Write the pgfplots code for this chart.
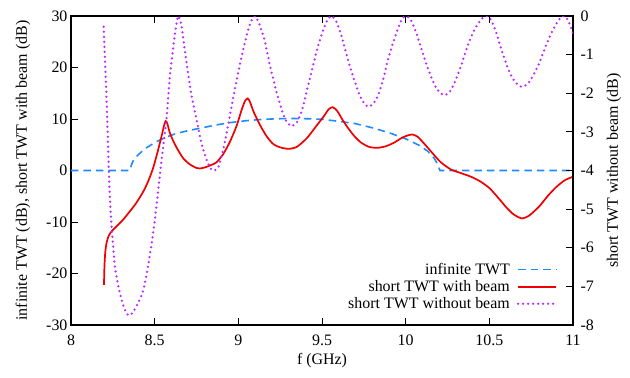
\documentclass[border=0pt]{standalone}
\usepackage{pgfplots}
\pgfplotsset{compat=1.18}
\usepackage{fontspec}
\setmainfont{Liberation Serif}
\definecolor{twtblue}{RGB}{30,140,255}
\definecolor{twtpurple}{RGB}{188,40,255}
\definecolor{twtred}{RGB}{240,0,0}

\pgfplotsset{
  common/.style={
    width=502bp, height=309bp, scale only axis,
    xmin=8, xmax=11,
    tick align=inside,
    major tick length=7bp,
    axis line style={line width=1.1pt},
    every tick/.style={black, line width=1pt},
    /pgf/number format/assume math mode=true,
    tick label style={font=\fontsize{16}{18}\selectfont},
    label style={font=\fontsize{16}{18}\selectfont},
  },
  legend image code/.code={\draw[#1] plot coordinates {(0bp,0bp) (19bp,0bp) (38bp,0bp)};},
}

\begin{document}
\begin{tikzpicture}[font=\fontsize{16}{18}\selectfont]
\begin{axis}[
  common,
  ymin=-30, ymax=30,
  ytick={-30,-20,-10,0,10,20,30},
  xtick={8,8.5,9,9.5,10,10.5,11},
  ytick pos=left,
  xtick pos=both,
  xticklabel style={yshift=-6bp},
  xlabel={f (GHz)},
  ylabel={infinite TWT (dB), short TWT with beam (dB)},
  every axis x label/.style={at={(axis description cs:0.5,-0.1165)},anchor=center},
  every axis y label/.style={at={(axis description cs:-0.0956,0.5)},rotate=90,anchor=center},
]
% infinite TWT
\addplot[twtblue, line width=1.6bp, dash pattern=on 7.5bp off 5bp] coordinates {
(8.0,0) (8.353,0) (8.36,1.0) (8.37,1.8) (8.385,2.5) (8.40,3.0) (8.44,4.2)
(8.51,5.6) (8.57,6.5) (8.63,7.2) (8.70,7.75) (8.77,8.2) (8.86,8.8) (8.95,9.3)
(9.04,9.65) (9.13,9.9) (9.23,10.05) (9.33,10.1) (9.42,10.05) (9.50,9.95)
(9.60,9.55) (9.70,9.1) (9.80,8.3) (9.90,7.35) (10.00,6.15) (10.08,4.9)
(10.13,3.8) (10.17,2.4) (10.19,1.3) (10.205,0) (11.0,0)
};
% short TWT with beam
\addplot[twtred, line width=1.7bp, smooth, tension=0.4] coordinates {
(8.197,-22.2) (8.200,-18.5) (8.205,-15.8) (8.213,-14.0) (8.225,-12.7)
(8.243,-11.8) (8.27,-10.9) (8.31,-9.6) (8.35,-8.0) (8.39,-6.3) (8.43,-4.2)
(8.46,-2.2) (8.49,0.4) (8.515,3.3) (8.54,6.5) (8.555,8.6) (8.565,9.6)
(8.575,9.2) (8.59,7.4) (8.61,5.8) (8.632,4.4) (8.67,2.4) (8.71,1.2)
(8.75,0.5) (8.77,0.4) (8.80,0.6) (8.84,1.1) (8.87,1.6) (8.91,3.2)
(8.95,5.6) (8.99,8.7) (9.02,11.8) (9.04,13.5) (9.056,14.0) (9.07,13.3)
(9.09,11.5) (9.13,8.8) (9.17,6.6) (9.21,5.1) (9.25,4.5) (9.30,4.2)
(9.35,4.6) (9.41,6.3) (9.46,8.4) (9.51,10.5) (9.54,11.9) (9.564,12.3)
(9.59,11.6) (9.62,10.0) (9.65,8.5) (9.69,6.8) (9.73,5.5) (9.78,4.6)
(9.83,4.4) (9.88,4.7) (9.93,5.4) (9.98,6.4) (10.02,6.9) (10.04,7.0)
(10.07,6.6) (10.10,5.6) (10.13,4.5) (10.17,3.0) (10.21,1.6) (10.27,0.2)
(10.33,-0.5) (10.39,-1.2) (10.445,-2.1) (10.50,-3.4) (10.545,-5.0)
(10.60,-7.1) (10.644,-8.5) (10.694,-9.3) (10.74,-8.7) (10.80,-6.9)
(10.85,-4.9) (10.90,-3.2) (10.95,-1.9) (11.0,-1.2)
};
\coordinate (bl) at (rel axis cs:-0.1414,-0.1683);
\coordinate (tr) at (rel axis cs:1.1135,1.0518);
\end{axis}
\begin{axis}[
  common,
  ymin=-8, ymax=0,
  ytick={-8,-7,-6,-5,-4,-3,-2,-1,0},
  axis x line=none,
  axis y line*=right,
  yticklabel style={xshift=4bp},
  ylabel={short TWT without beam (dB)},
  every axis y label/.style={at={(axis description cs:1.0817,0.5)},rotate=90,anchor=center},
  legend plot pos=right,
  legend cell align=right,
  legend style={draw=none, fill=none, at={(axis description cs:0.975,0.035)},
    anchor=south east, row sep=0.5bp, column sep=5bp, font=\fontsize{16}{18}\selectfont},
]
\addlegendimage{twtblue, line width=1.6bp, dash pattern=on 7.5bp off 5bp}
\addlegendentry{infinite TWT}
\addlegendimage{twtred, line width=1.7bp}
\addlegendentry{short TWT with beam}
% short TWT without beam
\addplot[twtpurple, line width=2.5bp, line cap=round, dash pattern=on 0bp off 5bp, smooth, tension=0.4] coordinates {
(8.195,-0.28) (8.213,-2.2) (8.233,-4.77) (8.263,-6.5) (8.303,-7.36)
(8.333,-7.7) (8.353,-7.75) (8.38,-7.6) (8.41,-7.35) (8.432,-7.1)
(8.46,-6.5) (8.49,-5.65) (8.51,-4.95) (8.532,-4.07) (8.552,-3.35)
(8.572,-2.6) (8.59,-1.6) (8.61,-0.85) (8.625,-0.35) (8.641,0)
(8.66,-0.25) (8.69,-1.2) (8.72,-2.05) (8.751,-2.69) (8.78,-3.3)
(8.811,-3.73) (8.835,-3.95) (8.855,-4.0) (8.88,-3.92) (8.91,-3.45)
(8.94,-2.8) (8.97,-2.1) (9.00,-1.45) (9.03,-0.85) (9.06,-0.35)
(9.08,-0.1) (9.10,0) (9.12,-0.15) (9.155,-0.6) (9.19,-1.3) (9.21,-1.65)
(9.23,-2.0) (9.265,-2.5) (9.29,-2.75) (9.32,-2.85) (9.35,-2.75)
(9.38,-2.45) (9.41,-1.92) (9.44,-1.4) (9.47,-0.88) (9.50,-0.45)
(9.53,-0.12) (9.555,0) (9.58,-0.1) (9.61,-0.42) (9.64,-0.9) (9.67,-1.35)
(9.70,-1.75) (9.725,-2.05) (9.755,-2.28) (9.78,-2.35) (9.81,-2.25)
(9.835,-2.05) (9.865,-1.65) (9.89,-1.2) (9.92,-0.75) (9.95,-0.38)
(9.975,-0.1) (10.0,0) (10.03,-0.1) (10.06,-0.4) (10.09,-0.8) (10.12,-1.2)
(10.15,-1.55) (10.18,-1.85) (10.21,-2.0) (10.235,-2.05) (10.265,-1.95)
(10.295,-1.7) (10.33,-1.3) (10.36,-0.9) (10.395,-0.5) (10.425,-0.25)
(10.455,-0.07) (10.485,0) (10.51,-0.1) (10.535,-0.35) (10.56,-0.7)
(10.59,-1.1) (10.62,-1.45) (10.645,-1.65) (10.675,-1.8) (10.70,-1.83)
(10.73,-1.75) (10.76,-1.55) (10.80,-1.2) (10.835,-0.8) (10.87,-0.45)
(10.90,-0.2) (10.925,-0.05) (10.95,0) (10.975,-0.15) (11.0,-0.45)
};
\addlegendentry{short TWT without beam}
\end{axis}
\pgfresetboundingbox
\useasboundingbox (bl) rectangle (tr);
\end{tikzpicture}
\end{document}
